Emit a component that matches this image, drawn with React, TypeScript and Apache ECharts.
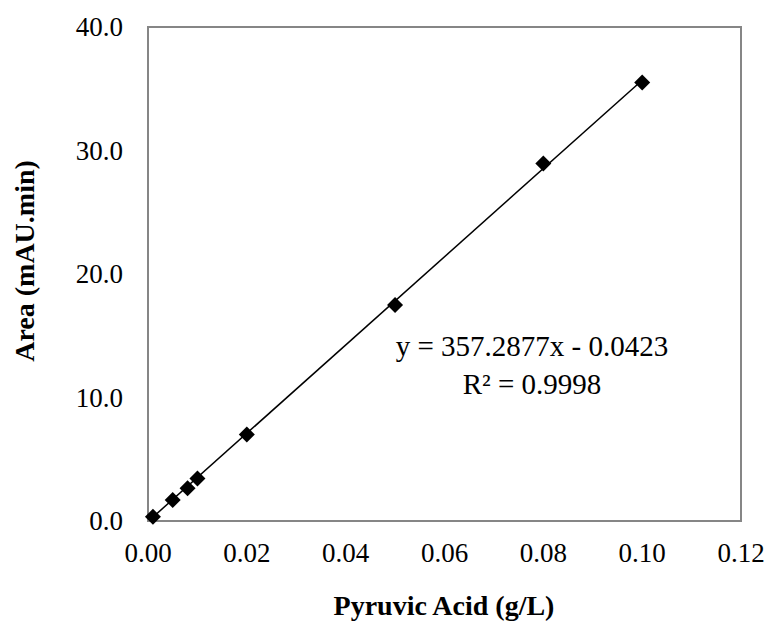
import React, { useEffect, useRef } from "react";
import * as echarts from "echarts";

// Pyruvic acid calibration standards (g/L) and measured peak areas (mAU.min)
const concentrations = [0.001, 0.005, 0.008, 0.01, 0.02, 0.05, 0.08, 0.1];
const areas = [0.35, 1.7, 2.65, 3.45, 7.0, 17.5, 28.95, 35.5];

// Linear least-squares fit reported for the calibration
const slope = 357.2877;
const intercept = -0.0423;
const rSquared = 0.9998;

const xTicks = ["0.00", "0.02", "0.04", "0.06", "0.08", "0.10", "0.12"];
const yTicks = ["0.0", "10.0", "20.0", "30.0", "40.0"];

const FONT = "'Liberation Serif', 'Times New Roman', serif";

export default function App() {
  const ref = useRef<HTMLDivElement>(null);

  useEffect(() => {
    if (!ref.current) return;
    const chart = echarts.init(ref.current, undefined, { renderer: "svg" });

    const xStart = concentrations[0];
    const xEnd = concentrations[concentrations.length - 1];
    const trend = [
      [xStart, slope * xStart + intercept],
      [xEnd, slope * xEnd + intercept],
    ];
    const sign = intercept < 0 ? "-" : "+";
    const eqLine = `y = ${slope.toFixed(4)}x ${sign} ${Math.abs(intercept).toFixed(4)}`;
    const r2Line = `R² = ${rSquared.toFixed(4)}`;

    chart.setOption({
      animation: false,
      backgroundColor: "#ffffff",
      grid: {
        left: 148,
        right: 28,
        top: 27,
        bottom: 100,
        show: true,
        borderColor: "#868686",
        borderWidth: 2,
        backgroundColor: "transparent",
      },
      xAxis: {
        type: "value",
        min: 0,
        max: 0.12,
        interval: 0.02,
        axisLine: { show: false },
        axisTick: { show: false },
        splitLine: { show: false },
        axisLabel: {
          margin: 18,
          fontFamily: FONT,
          fontSize: 27,
          color: "#000",
          formatter: (v: number) => xTicks[Math.round(v / 0.02)] ?? v.toFixed(2),
        },
      },
      yAxis: {
        type: "value",
        min: 0,
        max: 40,
        interval: 10,
        axisLine: { show: false },
        axisTick: { show: false },
        splitLine: { show: false },
        axisLabel: {
          margin: 25,
          fontFamily: FONT,
          fontSize: 27,
          color: "#000",
          formatter: (v: number) => yTicks[Math.round(v / 10)] ?? v.toFixed(1),
        },
      },
      series: [
        {
          type: "line",
          data: trend,
          symbol: "none",
          lineStyle: { color: "#000", width: 1.5 },
          z: 2,
        },
        {
          type: "scatter",
          data: concentrations.map((c, i) => [c, areas[i]]),
          symbol: "diamond",
          symbolSize: 16,
          itemStyle: { color: "#000", opacity: 1 },
          z: 3,
        },
      ],
      graphic: [
        {
          type: "text",
          x: 532,
          y: 346,
          style: {
            text: eqLine,
            fontFamily: FONT,
            fontSize: 29,
            fill: "#000",
            align: "center",
            verticalAlign: "middle",
          },
        },
        {
          type: "text",
          x: 532,
          y: 384,
          style: {
            text: r2Line,
            fontFamily: FONT,
            fontSize: 29,
            fill: "#000",
            align: "center",
            verticalAlign: "middle",
          },
        },
        {
          type: "text",
          x: 444,
          y: 605,
          style: {
            text: "Pyruvic Acid (g/L)",
            fontFamily: FONT,
            fontSize: 28,
            fontWeight: "bold",
            fill: "#000",
            align: "center",
            verticalAlign: "middle",
          },
        },
        {
          type: "text",
          x: 24,
          y: 261,
          rotation: Math.PI / 2,
          style: {
            text: "Area (mAU.min)",
            fontFamily: FONT,
            fontSize: 28,
            fontWeight: "bold",
            fill: "#000",
            align: "center",
            verticalAlign: "middle",
          },
        },
      ],
    });

    return () => chart.dispose();
  }, []);

  return (
    <div
      ref={ref}
      style={{ position: "fixed", left: 0, top: 0, width: 769, height: 621, overflow: "hidden" }}
    />
  );
}
